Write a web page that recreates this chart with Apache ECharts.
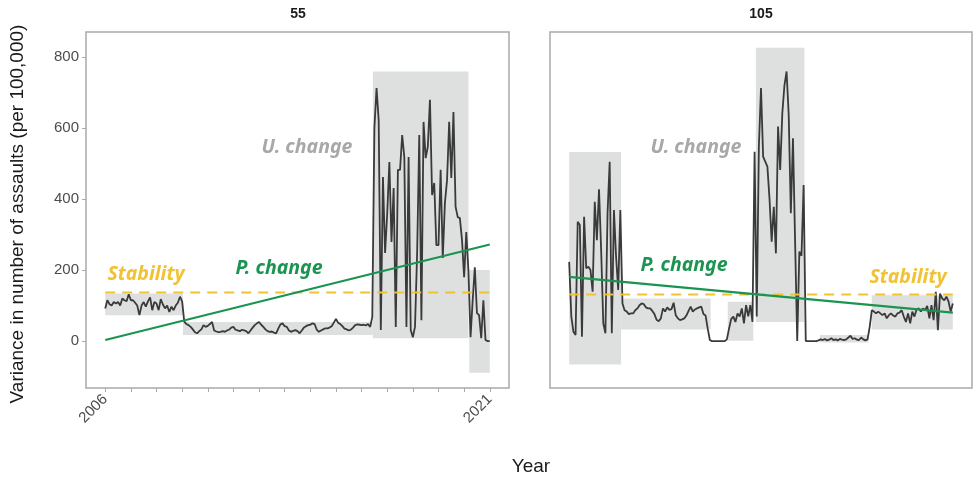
<!DOCTYPE html>
<html>
<head>
<meta charset="utf-8">
<script src="https://cdn.jsdelivr.net/npm/echarts@6/dist/echarts.min.js"></script>
<style>
  html, body { margin: 0; padding: 0; background: #ffffff; }
  #chart { width: 978px; height: 478px; }
</style>
</head>
<body>
<div id="chart"></div>
<script>
// Monthly variance series, Jan 2006 .. Jan 2021, one value per month
const startYear = 2006;
const endYear = 2021;

const area55 = [
  92,115,104,100,110,106,110,100,120,115,112,132,115,115,108,100,73,100,110,97,
  112,123,87,110,106,87,118,103,92,100,82,97,87,100,108,125,112,
  55,48,45,40,33,25,22,28,33,45,40,43,48,54,30,27,25,26,28,26,
  30,32,38,40,32,30,28,32,30,28,22,30,38,45,50,54,46,40,33,28,
  26,27,24,22,35,47,50,42,40,30,26,29,31,28,22,30,38,42,45,46,
  50,48,32,26,30,33,36,36,38,42,52,62,52,48,42,35,33,30,32,38,
  45,47,46,45,46,44,48,40,
  68,600,712,622,31,462,248,360,504,279,431,40,482,482,580,518,40,518,31,11,
  40,248,580,59,617,515,547,679,411,445,270,270,482,234,389,453,617,459,645,378,
  349,346,285,180,307,200,11,115,208,79,73,8,115,3,0,0
];

const area105 = [
  223,69,26,17,336,327,12,350,205,209,200,139,392,284,427,256,50,22,360,505,
  22,369,238,144,369,106,87,
  83,76,78,78,87,92,101,106,104,95,92,92,85,76,60,56,64,92,83,95,
  88,90,108,73,64,59,61,64,72,85,97,83,89,92,95,97,76,72,35,3,
  0,0,0,0,0,0,0,
  5,35,62,69,54,78,69,92,50,101,70,101,54,
  533,69,547,712,519,505,491,400,280,378,247,604,482,641,720,759,637,360,571,280,
  0,252,240,439,0,
  0,0,0,0,0,2,5,3,6,2,4,8,3,5,2,6,4,3,5,10,15,6,8,4,3,10,5,2,5,
  40,87,83,78,83,78,73,78,64,73,78,72,69,78,80,87,69,54,78,50,
  83,69,89,92,83,92,87,99,64,101,59,139,31,134,120,115,125,111,83,106
];

// Segment envelopes: [fromYear, toYear, low, high]
const segments55 = [
  [2006.0, 2009.03, 73, 134],
  [2009.03, 2016.44, 17, 54],
  [2016.44, 2020.17, 8, 759],
  [2020.2, 2021.0, -89, 200]
];
const segments105 = [
  [2006.0, 2008.03, -66, 532],
  [2008.03, 2011.53, 33, 120],
  [2012.2, 2013.2, 1, 111],
  [2013.3, 2015.2, 54, 826],
  [2015.8, 2017.7, -4, 17],
  [2017.83, 2021.0, 33, 129]
];

// Fitted trend (start, end) and stability level
const trend55 = [3, 272];
const trend105 = [181, 80];
const stable55 = 137;
const stable105 = 131;

const yTicks = [0, 200, 400, 600, 800];
const yearTicks = [];
for (let y = startYear; y <= endYear; y++) yearTicks.push(y);
const yearLabels = [startYear, endYear];

const panelTitles = ['55', '105'];

// colours
const lineColor = '#3a3a3a';
const bandColor = '#dedfdf';
const greenColor = '#1a9450';
const yellowColor = '#f1c232';
const uColor = '#a8a8a8';
const borderColor = '#a9a9a9';

function toPoints(values) {
  return values.map((v, i) => [startYear + i / 12, v]);
}

function bandArea(segs) {
  return segs.map(s => [{ xAxis: s[0], yAxis: s[2] }, { xAxis: s[1], yAxis: s[3] }]);
}

const chart = echarts.init(document.getElementById('chart'), null, { renderer: 'canvas' });

const grids = [
  { left: 86, top: 32, width: 423, height: 356 },
  { left: 550, top: 32, width: 422, height: 356 }
].map(g => Object.assign(g, { show: true, borderColor: borderColor, borderWidth: 1.5, backgroundColor: 'transparent', containLabel: false }));

function xAxisFor(idx, showLabels) {
  return {
    type: 'value', gridIndex: idx, min: 2005.25, max: 2021.75,
    axisLine: { show: false, onZero: false },
    splitLine: { show: false },
    axisTick: { show: showLabels, customValues: yearTicks, length: 4, lineStyle: { color: borderColor, width: 1 } },
    axisLabel: {
      show: showLabels, customValues: yearLabels, rotate: 45, margin: 9,
      formatter: v => String(v),
      fontSize: 15, color: '#4d4d4d', fontFamily: 'Liberation Sans'
    }
  };
}

function yAxisFor(idx, showLabels) {
  return {
    type: 'value', gridIndex: idx, min: -132, max: 870,
    axisLine: { show: false, onZero: false },
    splitLine: { show: false },
    axisTick: { show: showLabels, customValues: yTicks, length: 4, lineStyle: { color: borderColor, width: 1 } },
    axisLabel: {
      show: showLabels, customValues: yTicks, margin: 7,
      fontSize: 15, color: '#4d4d4d', fontFamily: 'Liberation Sans'
    }
  };
}

function panelSeries(idx, values, segs, trend, stable) {
  return [
    {
      type: 'line', xAxisIndex: idx, yAxisIndex: idx, data: [], silent: true, z: 1,
      markArea: { silent: true, itemStyle: { color: bandColor }, data: bandArea(segs) }
    },
    {
      type: 'line', xAxisIndex: idx, yAxisIndex: idx, z: 3, silent: true,
      data: toPoints(values), showSymbol: false,
      lineStyle: { color: lineColor, width: 1.8 }
    },
    {
      type: 'line', xAxisIndex: idx, yAxisIndex: idx, z: 4, silent: true,
      data: [[startYear, stable], [endYear, stable]], showSymbol: false,
      lineStyle: { color: yellowColor, width: 2, type: [10, 7] }
    },
    {
      type: 'line', xAxisIndex: idx, yAxisIndex: idx, z: 5, silent: true,
      data: [[startYear, trend[0]], [endYear, trend[1]]], showSymbol: false,
      lineStyle: { color: greenColor, width: 2.2 }
    }
  ];
}

const noteStyle = { fontFamily: 'Noto Sans', fontWeight: 'bold', fontStyle: 'italic', fontSize: 19.5 };
const plainStyle = { fontFamily: 'Liberation Sans', fontWeight: 'normal', fontSize: 19 };
const titleStyle = { fontFamily: 'Liberation Sans', fontWeight: 'bold', fontSize: 14 };

function centered(text, cx, cy, fontStyle, color, rotation) {
  return {
    type: 'text', x: cx, y: cy, rotation: rotation || 0,
    style: Object.assign({ text: text, fill: color, align: 'center', verticalAlign: 'middle' }, fontStyle), z: 20
  };
}

chart.setOption({
  animation: false,
  backgroundColor: '#ffffff',
  grid: grids,
  xAxis: [xAxisFor(0, true), xAxisFor(1, false)],
  yAxis: [yAxisFor(0, true), yAxisFor(1, false)],
  series: [
    ...panelSeries(0, area55, segments55, trend55, stable55),
    ...panelSeries(1, area105, segments105, trend105, stable105)
  ],
  graphic: [
    centered(panelTitles[0], 298, 14, titleStyle, '#1a1a1a'),
    centered(panelTitles[1], 761, 14, titleStyle, '#1a1a1a'),
    centered('Variance in number of assaults (per 100,000)', 18, 214, plainStyle, '#1a1a1a', Math.PI / 2),
    centered('Year', 531, 467, plainStyle, '#1a1a1a'),
    centered('U. change', 307, 147, noteStyle, uColor),
    centered('Stability', 146, 274, noteStyle, yellowColor),
    centered('P. change', 279, 268, noteStyle, greenColor),
    centered('U. change', 696, 147, noteStyle, uColor),
    centered('P. change', 684, 265, noteStyle, greenColor),
    centered('Stability', 908, 277, noteStyle, yellowColor)
  ]
});
</script>
</body>
</html>
